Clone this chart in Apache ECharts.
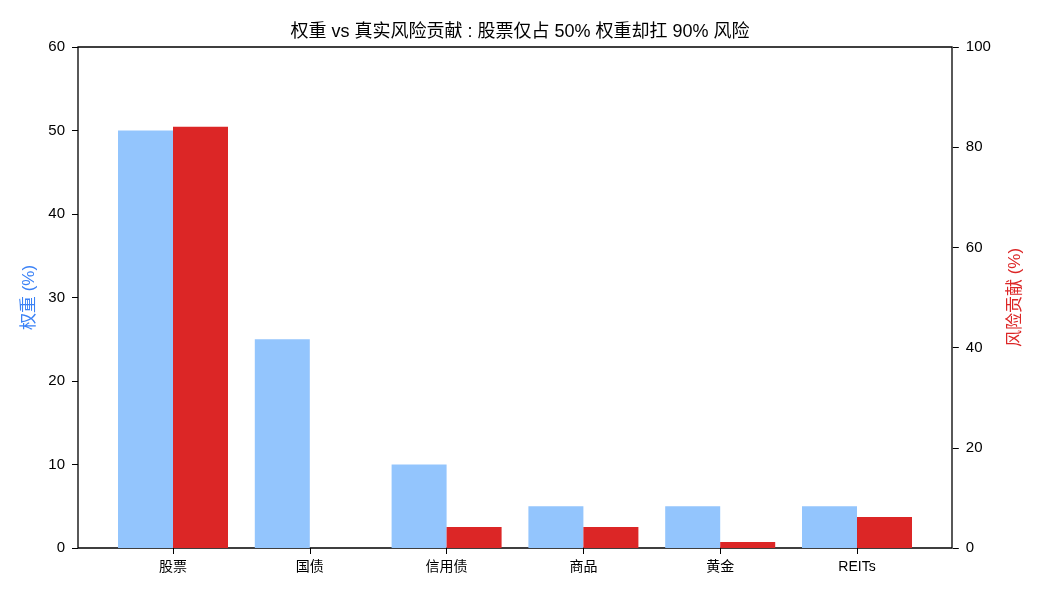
<!DOCTYPE html>
<html>
<head>
  <meta charset="utf-8">
  <title>权重 vs 真实风险贡献</title>
  <script src="https://cdn.jsdelivr.net/npm/echarts/dist/echarts.min.js"></script>
  <style>
    body { margin: 0; background: #fff; }
    #chart { width: 1040px; height: 598px; }
  </style>
</head>
<body>
  <div id="chart"></div>
  <script>
    // data
    const categories = ['股票', '国债', '信用债', '商品', '黄金', 'REITs'];
    const weights = [50, 25, 10, 5, 5, 5];
    const riskContrib = [84.1, 0, 4.2, 4.2, 1.2, 6.2];

    const font = '"Liberation Sans", Arial, "Noto Sans CJK SC", sans-serif';
    const chart = echarts.init(document.getElementById('chart'));

    chart.setOption({
      animation: false,
      textStyle: { fontFamily: font },
      title: {
        text: '权重 vs 真实风险贡献 : 股票仅占 50% 权重却扛 90% 风险',
        left: 'center',
        top: 18,
        textStyle: { fontSize: 18, fontWeight: 'normal', color: '#000', fontFamily: font }
      },
      grid: [
        // bars
        { left: 104.6, right: 114.6, top: 47, bottom: 50 },
        // frame box
        { left: 78, right: 88, top: 47, bottom: 50, show: true, borderColor: '#000', borderWidth: 1.3, backgroundColor: 'transparent' }
      ],
      xAxis: [
        {
          type: 'category',
          data: categories,
          gridIndex: 0,
          axisLine: { show: false },
          axisTick: { show: true, alignWithLabel: true, length: 6, lineStyle: { color: '#000' } },
          axisLabel: { color: '#000', fontSize: 14, margin: 12 }
        },
        { type: 'value', gridIndex: 1, show: false }
      ],
      yAxis: [
        {
          type: 'value',
          gridIndex: 0,
          min: 0, max: 60, interval: 10,
          offset: 26.6,
          name: '权重 (%)',
          nameLocation: 'middle',
          nameRotate: 90,
          nameGap: 27,
          nameTextStyle: { color: '#3b82f6', fontSize: 17 },
          axisLine: { show: false },
          axisTick: { show: true, length: 6, lineStyle: { color: '#000' } },
          axisLabel: { color: '#000', fontSize: 15, margin: 13 },
          splitLine: { show: false }
        },
        {
          type: 'value',
          gridIndex: 0,
          position: 'right',
          min: 0, max: 100, interval: 20,
          offset: 27.4,
          name: '风险贡献 (%)',
          nameLocation: 'middle',
          nameRotate: 90,
          nameGap: 54,
          nameTextStyle: { color: '#dc2626', fontSize: 17 },
          axisLine: { show: false },
          axisTick: { show: true, length: 6, lineStyle: { color: '#000' } },
          axisLabel: { color: '#000', fontSize: 15, margin: 13 },
          splitLine: { show: false }
        },
        { type: 'value', gridIndex: 1, show: false }
      ],
      series: [
        {
          name: '权重',
          type: 'bar',
          xAxisIndex: 0,
          yAxisIndex: 0,
          data: weights,
          barWidth: 55,
          barGap: '0%',
          itemStyle: { color: '#93c5fd' }
        },
        {
          name: '风险贡献',
          type: 'bar',
          xAxisIndex: 0,
          yAxisIndex: 1,
          data: riskContrib,
          barWidth: 55,
          barGap: '0%',
          itemStyle: { color: '#dc2626' }
        }
      ]
    });
  </script>
</body>
</html>
